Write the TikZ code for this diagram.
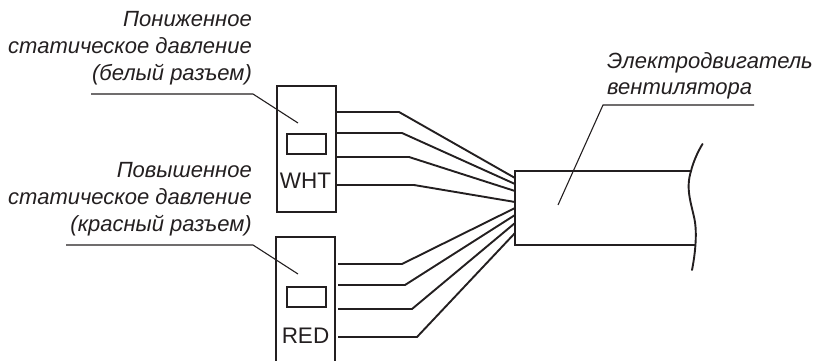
\documentclass[tikz,border=0pt]{standalone}
\usepackage{fontspec}
\setmainfont{Liberation Sans}
\definecolor{ink}{HTML}{231F20}
\tikzset{
  thick line/.style={draw=ink,line width=1.9pt},
  leader/.style={draw=ink,line width=1.1pt},
  wire/.style={draw=ink,line width=1.9pt,line join=miter},
  callout/.style={text=ink,font=\fontsize{22pt}{26.6pt}\selectfont\itshape,inner sep=0pt,align=right,anchor=north east},
  callout left/.style={callout,align=left,anchor=north west},
  tag/.style={text=ink,font=\fontsize{22.5pt}{24pt}\selectfont,inner sep=0pt},
  housing/.style={thick line,rectangle,inner sep=0pt,minimum width=59pt,minimum height=126pt,anchor=north west},
  slot/.style={thick line,rectangle,inner sep=0pt,minimum width=39pt,minimum height=20pt,anchor=north west}
}
\begin{document}
\begin{tikzpicture}[x=1pt,y=-1pt]
\useasboundingbox (0,0) rectangle (816,361);
% callouts
\node[callout] (t1) at (252,11.5) {Пониженное\\статическое давление\\(белый разъем)};
\node[callout] (t2) at (252,162.5) {Повышенное\\статическое давление\\(красный разъем)};
\node[callout left] (t3) at (607,52) {Электродвигатель\\вентилятора};
% connectors' housings
\node[housing] (wht) at (276,85) {};
\node[slot] (wslot) at (286,133) {};
\node[tag] (wtag) at (305.5,181) {WHT};
\coordinate (rtl) at (276,237);
\coordinate (rtr) at (335,237);
\coordinate (rbl) at (276,361);
\coordinate (rbr) at (335,361);
\draw[thick line] (rbl) -- (rtl) -- (rtr) -- (rbr);
\node[slot] (rslot) at (286,286) {};
\node[tag] (rtag) at (305.5,336) {RED};
% motor
\coordinate (mtl) at (515,171);
\coordinate (mtr) at (691,171);
\coordinate (mbl) at (515,245);
\coordinate (mbr) at (695.5,245);
\draw[thick line] (mtr) -- (mtl) -- (mbl) -- (mbr);
\coordinate (brk1) at (702.5,144);
\coordinate (brk2) at (692,270);
\draw[thick line,line cap=round] (brk1) .. controls (697,153) and (693,163) .. (691,171)
   .. controls (685,190) and (692,205) .. (695,222)
   .. controls (697,236) and (695,255) .. (brk2);
% wires
\foreach \n/\sy/\bx/\ey in {a/112/399/178,b/133/402/184,c/157/409/191,d/185/414/202}{
  \coordinate (w\n s) at (335,\sy);
  \coordinate (w\n b) at (\bx,\sy);
  \coordinate (w\n e) at (515,\ey);
  \draw[wire] (w\n s) -- (w\n b) -- (w\n e);
}
\foreach \n/\sy/\bx/\ey in {a/264/402/208,b/285/405/215,c/309/412/223,d/337/417/233}{
  \coordinate (r\n s) at (338,\sy);
  \coordinate (r\n b) at (\bx,\sy);
  \coordinate (r\n e) at (515,\ey);
  \draw[wire] (r\n s) -- (r\n b) -- (r\n e);
}
% leaders
\coordinate (l1a) at (91,94);\coordinate (l1b) at (253,94);\coordinate (l1c) at (298,123);
\coordinate (l2a) at (66,245);\coordinate (l2b) at (253,245);\coordinate (l2c) at (298,274);
\coordinate (l3a) at (754,105);\coordinate (l3b) at (603,105);\coordinate (l3c) at (558,205);
\draw[leader] (l1a) -- (l1b) -- (l1c);
\draw[leader] (l2a) -- (l2b) -- (l2c);
\draw[leader] (l3a) -- (l3b) -- (l3c);
\end{tikzpicture}
\end{document}
